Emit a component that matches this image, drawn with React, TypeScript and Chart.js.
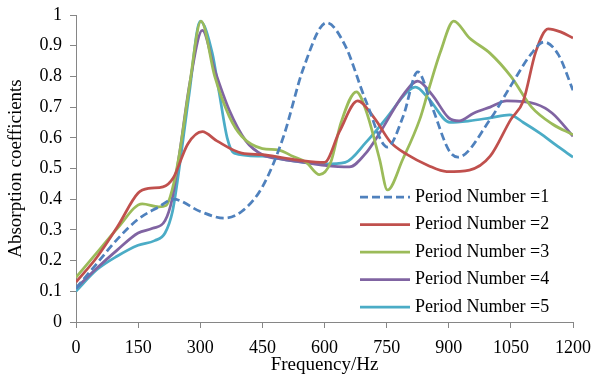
import React, { useEffect, useRef } from "react";
import { Chart, registerables } from "chart.js";

Chart.register(...registerables);

const xTicks = [0, 150, 300, 450, 600, 750, 900, 1050, 1200];
const seriesNames = ["Period Number =1", "Period Number =2", "Period Number =3", "Period Number =4", "Period Number =5"];
const seriesColors = ["#4F81BD", "#C0504D", "#9BBB59", "#8064A2", "#4BACC6"];

const freq1 = [0, 50, 100, 150, 200, 235, 300, 358, 400, 450, 500, 550, 605, 650, 700, 752, 790, 825, 860, 900, 922, 1000, 1050, 1100, 1130, 1165, 1200];
const abs1 = [0.11, 0.19, 0.27, 0.335, 0.375, 0.40, 0.36, 0.338, 0.36, 0.44, 0.60, 0.83, 0.975, 0.90, 0.72, 0.57, 0.67, 0.815, 0.70, 0.56, 0.537, 0.66, 0.77, 0.875, 0.912, 0.87, 0.755];

const freq2 = [0, 50, 100, 150, 175, 210, 235, 270, 305, 340, 400, 450, 500, 550, 600, 636, 680, 720, 760, 800, 850, 895, 950, 1000, 1050, 1080, 1110, 1140, 1170, 1200];
const abs2 = [0.13, 0.21, 0.31, 0.42, 0.435, 0.44, 0.47, 0.58, 0.62, 0.59, 0.55, 0.545, 0.535, 0.525, 0.52, 0.62, 0.72, 0.665, 0.585, 0.545, 0.51, 0.49, 0.495, 0.54, 0.66, 0.72, 0.88, 0.955, 0.945, 0.925];

const freq3 = [0, 50, 100, 160, 200, 218, 232, 250, 273, 302, 335, 370, 400, 450, 490, 523, 556, 588, 615, 640, 677, 700, 733, 752, 789, 830, 850, 880, 912, 950, 1000, 1050, 1100, 1150, 1200];
const abs3 = [0.145, 0.225, 0.305, 0.385, 0.375, 0.38, 0.43, 0.55, 0.76, 0.98, 0.80, 0.67, 0.605, 0.565, 0.56, 0.54, 0.52, 0.48, 0.52, 0.65, 0.75, 0.69, 0.53, 0.43, 0.53, 0.66, 0.75, 0.88, 0.98, 0.925, 0.875, 0.80, 0.70, 0.645, 0.61];

const freq4 = [0, 50, 100, 150, 185, 215, 232, 250, 275, 305, 335, 370, 410, 450, 500, 550, 600, 660, 700, 733, 790, 825, 860, 900, 925, 960, 1000, 1040, 1110, 1150, 1200];
const abs4 = [0.11, 0.175, 0.235, 0.29, 0.305, 0.33, 0.40, 0.55, 0.78, 0.95, 0.82, 0.69, 0.59, 0.545, 0.53, 0.52, 0.51, 0.505, 0.55, 0.615, 0.74, 0.785, 0.74, 0.665, 0.655, 0.68, 0.70, 0.72, 0.71, 0.68, 0.605];

const freq5 = [0, 50, 100, 150, 190, 215, 233, 245, 273, 300, 329, 346, 365, 382, 450, 500, 550, 600, 650, 700, 750, 800, 820, 850, 903, 950, 1000, 1047, 1080, 1120, 1160, 1200];
const abs5 = [0.10, 0.17, 0.215, 0.25, 0.265, 0.29, 0.36, 0.46, 0.74, 0.98, 0.876, 0.745, 0.60, 0.55, 0.54, 0.53, 0.52, 0.515, 0.52, 0.585, 0.665, 0.75, 0.765, 0.73, 0.65, 0.655, 0.665, 0.675, 0.65, 0.615, 0.575, 0.537];

const allFreq = [freq1, freq2, freq3, freq4, freq5];
const allAbs = [abs1, abs2, abs3, abs4, abs5];

const FONT = '"Liberation Serif"';

const legendPlugin = {
  id: "insideLegend",
  afterDraw(chart: any) {
    const { ctx, chartArea } = chart;
    const x1 = chartArea.left + 284;
    const x2 = x1 + 50;
    const tx = x2 + 5;
    const y0 = chartArea.top + 182;
    const dy = 27.5;
    ctx.save();
    chart.data.datasets.forEach((ds: any, i: number) => {
      const y = y0 + i * dy;
      ctx.beginPath();
      ctx.strokeStyle = ds.borderColor;
      ctx.lineWidth = ds.borderWidth;
      ctx.setLineDash(ds.borderDash || []);
      ctx.moveTo(x1, y);
      ctx.lineTo(x2, y);
      ctx.stroke();
      ctx.setLineDash([]);
      ctx.fillStyle = "#000";
      ctx.font = `18px ${FONT}`;
      ctx.textBaseline = "middle";
      ctx.textAlign = "left";
      ctx.fillText(ds.label, tx, y);
    });
    ctx.restore();
  },
};

export default function App() {
  const ref = useRef<HTMLCanvasElement | null>(null);
  useEffect(() => {
    document.body.style.margin = "0";
    let chart: Chart | null = null;
    let cancelled = false;
    const build = () => {
      if (cancelled || !ref.current) return;
      const datasets = allAbs.map((vals, i) => ({
        label: seriesNames[i],
        data: vals.map((v, j) => ({ x: allFreq[i][j], y: v })),
        borderColor: seriesColors[i],
        backgroundColor: seriesColors[i],
        borderWidth: 2.75,
        borderDash: i === 0 ? [8, 4] : [],
        pointRadius: 0,
        cubicInterpolationMode: "monotone" as const,
        fill: false,
      }));
      chart = new Chart(ref.current, {
        type: "line",
        data: { datasets },
        plugins: [legendPlugin],
        options: {
          animation: false,
          responsive: false,
          layout: { padding: { left: 5, right: 22, top: 15, bottom: 3 } },
          plugins: { legend: { display: false }, tooltip: { enabled: false } },
          scales: {
            x: {
              type: "linear",
              min: 0,
              max: 1200,
              afterBuildTicks: (axis: any) => {
                axis.ticks = xTicks.map((v) => ({ value: v }));
              },
              afterFit: (axis: any) => {
                axis.height = 54;
                axis.paddingLeft = 0;
                axis.paddingRight = 0;
              },
              grid: {
                display: true,
                drawOnChartArea: false,
                drawTicks: true,
                tickLength: 6,
                color: "#868686",
              },
              border: { display: true, color: "#868686", width: 1 },
              ticks: {
                color: "#000",
                font: { family: FONT, size: 18 },
                padding: 9,
                maxRotation: 0,
                autoSkip: false,
                callback: (v: any) => String(v),
              },
              title: {
                display: true,
                text: "Frequency/Hz",
                color: "#000",
                font: { family: FONT, size: 19 },
                padding: 0,
              },
            },
            y: {
              type: "linear",
              min: 0,
              max: 1,
              afterFit: (axis: any) => {
                axis.width = 71;
                axis.paddingTop = 0;
                axis.paddingBottom = 0;
              },
              grid: {
                display: true,
                drawOnChartArea: false,
                drawTicks: true,
                tickLength: 6,
                color: "#868686",
              },
              border: { display: true, color: "#868686", width: 1 },
              ticks: {
                stepSize: 0.1,
                color: "#000",
                font: { family: FONT, size: 18 },
                padding: 8,
                callback: (v: any) => String(Math.round(Number(v) * 10) / 10),
              },
              title: {
                display: true,
                text: "Absorption coefficients",
                color: "#000",
                font: { family: FONT, size: 19 },
                padding: 0,
              },
            },
          },
        },
      });
    };
    const fontsApi = (document as any).fonts;
    if (fontsApi && fontsApi.load) {
      Promise.all([fontsApi.load('18px "Liberation Serif"'), fontsApi.load('19px "Liberation Serif"')])
        .catch(() => null)
        .then(() => build());
    } else {
      build();
    }
    return () => {
      cancelled = true;
      if (chart) chart.destroy();
    };
  }, []);
  return (
    <div style={{ position: "fixed", left: 0, top: 0, width: 595, height: 379, background: "#fff" }}>
      <canvas ref={ref} width={595} height={379} style={{ display: "block" }} />
    </div>
  );
}
